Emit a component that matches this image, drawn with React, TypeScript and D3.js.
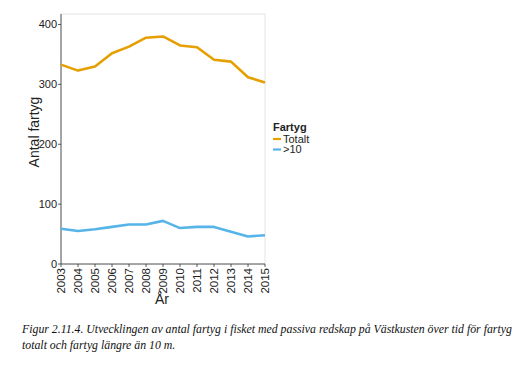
import React from "react";
import * as d3 from "d3";

const years = [2003, 2004, 2005, 2006, 2007, 2008, 2009, 2010, 2011, 2012, 2013, 2014, 2015];
const totalt = [333, 323, 330, 352, 363, 378, 380, 365, 362, 341, 338, 312, 303];
const over10 = [59, 55, 58, 62, 66, 66, 72, 60, 62, 62, 54, 46, 48];
const yTicks = [0, 100, 200, 300, 400];
const seriesNames = ["Totalt", ">10"];
const seriesColors = ["#E69F00", "#56B4E9"];
const caption1 = "Figur 2.11.4. Utvecklingen av antal fartyg i fisket med passiva redskap på Västkusten över tid för fartyg";
const caption2 = "totalt och fartyg längre än 10 m.";

export default function App() {
  const W = 529, H = 366;
  const left = 61, right = 265, top = 14, bottom = 264;
  const x = d3.scaleLinear().domain([2003, 2015]).range([left, right]);
  const y = d3.scaleLinear().domain([0, 400]).range([264, 24.5]);
  const line = d3.line<number>().x((_, i) => x(years[i])).y((d) => y(d));
  const series = [totalt, over10];
  const font = "Liberation Sans, Arial, sans-serif";
  return (
    <svg width={W} height={H} style={{ position: "absolute", left: 0, top: 0, background: "#fff" }}>
      <rect x={0} y={0} width={W} height={H} fill="#fff" />
      <rect x={left} y={top} width={right - left} height={bottom - top} fill="none" stroke="#e4e4e4" strokeWidth={1} />
      <line x1={left} x2={left} y1={top} y2={bottom} stroke="#333" strokeWidth={0.8} />
      <line x1={left} x2={right} y1={bottom} y2={bottom} stroke="#333" strokeWidth={0.8} />
      {yTicks.map((t) => (
        <g key={t}>
          <line x1={left - 3} x2={left} y1={y(t)} y2={y(t)} stroke="#333" strokeWidth={0.8} />
          <text x={left - 4} y={y(t)} dy="0.35em" textAnchor="end" fontFamily={font} fontSize={11} fill="#222">{t}</text>
        </g>
      ))}
      {years.map((yr) => (
        <g key={yr}>
          <line x1={x(yr)} x2={x(yr)} y1={bottom} y2={bottom + 3} stroke="#333" strokeWidth={0.8} />
          <text transform={`translate(${x(yr)},${bottom + 4}) rotate(-90)`} dy="0.35em" textAnchor="end" fontFamily={font} fontSize={11.5} fill="#222">{yr}</text>
        </g>
      ))}
      {series.map((s, i) => (
        <path key={i} d={line(s) || ""} fill="none" stroke={seriesColors[i]} strokeWidth={2.6} strokeLinejoin="round" />
      ))}
      <text x={162} y={304} textAnchor="middle" fontFamily={font} fontSize={14} fill="#222">År</text>
      <text transform={`translate(39,${(top + bottom) / 2 - 7}) rotate(-90)`} textAnchor="middle" fontFamily={font} fontSize={14} fill="#222">Antal fartyg</text>
      <text x={273} y={131} fontFamily={font} fontSize={11} fontWeight="bold" fill="#222">Fartyg</text>
      {seriesNames.map((n, i) => (
        <g key={n}>
          <line x1={273} x2={281} y1={139 + i * 10.5} y2={139 + i * 10.5} stroke={seriesColors[i]} strokeWidth={2.2} />
          <text x={283} y={139 + i * 10.5} dy="0.35em" fontFamily={font} fontSize={11} fill="#222">{n}</text>
        </g>
      ))}
      <text x={22} y={333} fontFamily="Liberation Serif, serif" fontStyle="italic" fontSize={11.8} fill="#111">{caption1}</text>
      <text x={22} y={349} fontFamily="Liberation Serif, serif" fontStyle="italic" fontSize={11.8} fill="#111">{caption2}</text>
    </svg>
  );
}
